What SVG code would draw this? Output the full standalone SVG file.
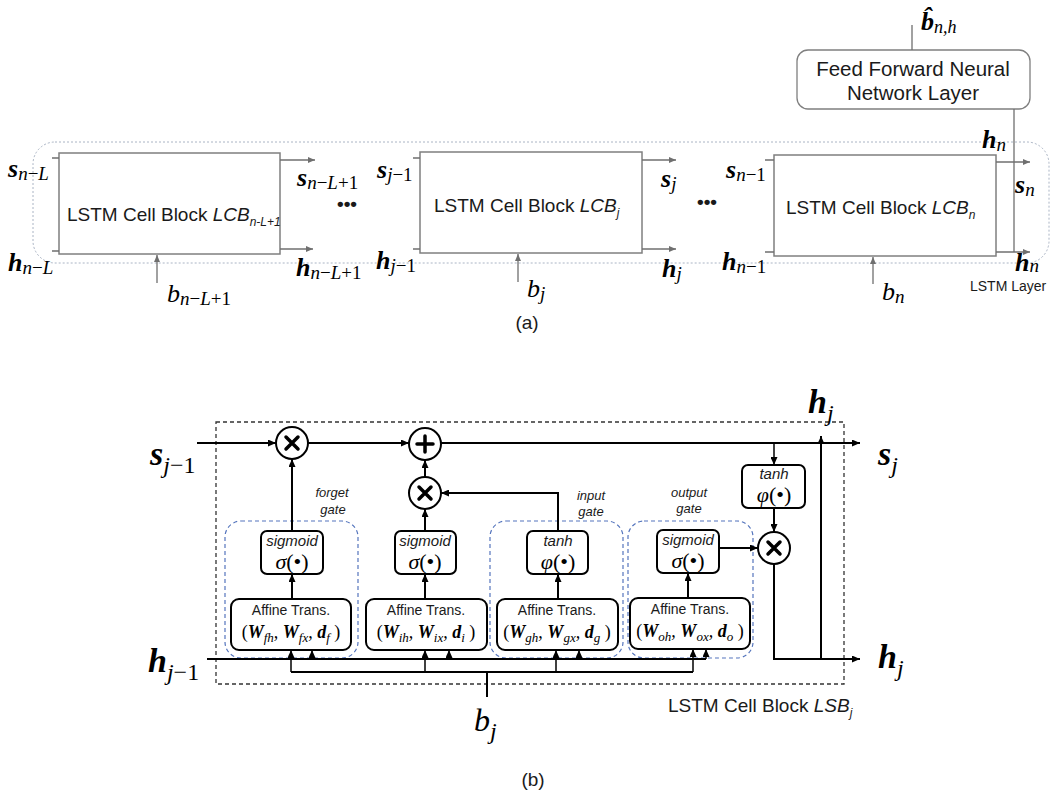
<svg xmlns="http://www.w3.org/2000/svg" width="1051" height="796" viewBox="0 0 1051 796">
<style>
.sans{font-family:"Liberation Sans",Arial,sans-serif;fill:#1a1a1a}
.m{font-family:"Liberation Serif","Times New Roman",serif;font-style:italic;font-weight:normal;fill:#000}
.mb{font-family:"Liberation Serif","Times New Roman",serif;font-style:italic;font-weight:bold;fill:#000}
.up{font-style:normal}
.blk{fill:#fff;stroke:#7f7f7f;stroke-width:1.5}
.gl{fill:none;stroke:#6f6f6f;stroke-width:1.3}
.dot{fill:none;stroke:#aab4c4;stroke-width:1;stroke-dasharray:2 2}
.ln{fill:none;stroke:#000;stroke-width:2}
.bx{fill:#fff;stroke:#000;stroke-width:2}
.gate{fill:none;stroke:#5575bd;stroke-width:1.2;stroke-dasharray:4 3}
.cell{fill:none;stroke:#333;stroke-width:1.3;stroke-dasharray:4 3}
.op{fill:#fff;stroke:#000;stroke-width:2}
.opx{stroke:#000;stroke-width:3.5;stroke-linecap:round}
</style>
<defs>
<marker id="aA" markerUnits="userSpaceOnUse" markerWidth="7" markerHeight="6" refX="7" refY="3" orient="auto"><path d="M0,0 L7,3 L0,6 z" fill="#6f6f6f"/></marker>
<marker id="aB" markerUnits="userSpaceOnUse" markerWidth="8" markerHeight="7" refX="8" refY="3.5" orient="auto"><path d="M0,0 L8,3.5 L0,7 z" fill="#000"/></marker>
</defs>

<!-- ===== (a) ===== -->
<g id="lstm-layer">
<rect class="dot" x="33" y="142" width="1016" height="121" rx="22"/>
<text class="sans" x="970" y="291" font-size="14">LSTM Layer</text>
</g>

<g id="ffn">
<rect class="blk" x="797" y="50" width="233" height="59" rx="11" style="stroke-width:1.3"/>
<text class="sans" x="913" y="76" font-size="20.5" text-anchor="middle">Feed Forward Neural</text>
<text class="sans" x="913" y="100" font-size="20.5" text-anchor="middle">Network Layer</text>
</g>

<g id="lcb1">
<rect class="blk" x="59" y="153" width="221" height="101"/>
<text class="sans" x="67" y="221" font-size="19">LSTM Cell Block <tspan font-style="italic">LCB</tspan><tspan font-style="italic" font-size="12" dy="5">n-L+1</tspan></text>
</g>
<g id="lcb2">
<rect class="blk" x="420" y="152" width="222" height="101"/>
<text class="sans" x="434" y="212" font-size="19">LSTM Cell Block <tspan font-style="italic">LCB</tspan><tspan font-style="italic" font-size="12" dy="5">j</tspan></text>
</g>
<g id="lcb3">
<rect class="blk" x="774" y="155" width="222" height="101"/>
<text class="sans" x="786" y="214" font-size="19">LSTM Cell Block <tspan font-style="italic">LCB</tspan><tspan font-style="italic" font-size="12" dy="5">n</tspan></text>
</g>

<g id="connectors-a">
<path class="gl" d="M52,158 H59 M52,251 H59"/>
<path class="gl" d="M280,160 H315" marker-end="url(#aA)"/>
<path class="gl" d="M280,249 H313" marker-end="url(#aA)"/>
<path class="gl" d="M157,283 V255" marker-end="url(#aA)"/>
<path class="gl" d="M413,158 H420 M413,249 H420"/>
<path class="gl" d="M642,160 H676" marker-end="url(#aA)"/>
<path class="gl" d="M642,249 H676" marker-end="url(#aA)"/>
<path class="gl" d="M518,282 V254" marker-end="url(#aA)"/>
<path class="gl" d="M765,160 H774 M765,252 H774"/>
<path class="gl" d="M996,162 H1030" marker-end="url(#aA)"/>
<path class="gl" d="M996,252 H1030" marker-end="url(#aA)"/>
<path class="gl" d="M873,284 V257" marker-end="url(#aA)"/>
<path class="gl" d="M1014,252 V109"/>
<path class="gl" d="M912,25 V50"/>
</g>

<g id="labels-a">
<text class="mb" x="921" y="30" font-size="26">b&#770;<tspan class="m" font-size="18" dy="3">n,h</tspan></text>
<text class="mb" x="8" y="177" font-size="26">s<tspan class="m" font-size="19" dy="3">n<tspan class="up">−</tspan>L</tspan></text>
<text class="mb" x="8" y="271" font-size="26">h<tspan class="m" font-size="19" dy="3">n<tspan class="up">−</tspan>L</tspan></text>
<text class="mb" x="297" y="186" font-size="26">s<tspan class="m" font-size="19" dy="3">n<tspan class="up">−</tspan>L<tspan class="up">+1</tspan></tspan></text>
<text class="mb" x="296" y="276" font-size="26">h<tspan class="m" font-size="19" dy="3">n<tspan class="up">−</tspan>L<tspan class="up">+1</tspan></tspan></text>
<text class="m" x="167" y="302" font-size="26">b<tspan font-size="19" dy="3">n<tspan class="up">−</tspan>L<tspan class="up">+1</tspan></tspan></text>
<text class="sans" x="337" y="210" font-size="19" font-weight="bold">•••</text>
<text class="mb" x="377" y="178" font-size="26">s<tspan class="m" font-size="19" dy="3">j<tspan class="up">−1</tspan></tspan></text>
<text class="mb" x="376" y="269" font-size="26">h<tspan class="m" font-size="19" dy="3">j<tspan class="up">−1</tspan></tspan></text>
<text class="mb" x="661" y="187" font-size="26">s<tspan class="m" font-size="19" dy="3">j</tspan></text>
<text class="mb" x="662" y="277" font-size="26">h<tspan class="m" font-size="19" dy="3">j</tspan></text>
<text class="m" x="527" y="297" font-size="26">b<tspan font-size="19" dy="3">j</tspan></text>
<text class="sans" x="697" y="208" font-size="19" font-weight="bold">•••</text>
<text class="mb" x="726" y="178" font-size="26">s<tspan class="m" font-size="19" dy="3">n<tspan class="up">−1</tspan></tspan></text>
<text class="mb" x="722" y="270" font-size="26">h<tspan class="m" font-size="19" dy="3">n<tspan class="up">−1</tspan></tspan></text>
<text class="mb" x="1015" y="193" font-size="26">s<tspan class="m" font-size="19" dy="3">n</tspan></text>
<text class="mb" x="982" y="148" font-size="26">h<tspan class="m" font-size="19" dy="3">n</tspan></text>
<text class="mb" x="1015" y="271" font-size="26">h<tspan class="m" font-size="19" dy="1">n</tspan></text>
<text class="m" x="882" y="300" font-size="26">b<tspan font-size="19" dy="3">n</tspan></text>
<text class="sans" x="527" y="329" font-size="19" text-anchor="middle">(a)</text>
</g>

<!-- ===== (b) ===== -->
<g id="lsb">
<rect class="cell" x="216" y="422" width="628" height="262"/>
<text class="sans" x="668" y="712" font-size="19">LSTM Cell Block <tspan font-style="italic">LSB</tspan><tspan font-style="italic" font-size="12" dy="5">j</tspan></text>
</g>

<g id="forget-gate">
<rect class="gate" x="225" y="521" width="133" height="137" rx="16"/>
<rect class="bx" x="261" y="531" width="62" height="43" rx="6"/>
<text class="sans" x="292" y="546" font-size="15" font-style="italic" text-anchor="middle">sigmoid</text>
<text class="m" x="292" y="569" font-size="22" text-anchor="middle">σ<tspan class="up">(•)</tspan></text>
<rect class="bx" x="231" y="599" width="120" height="51" rx="8"/>
<text class="sans" x="291" y="615" font-size="14" text-anchor="middle">Affine Trans.</text>
<text class="m" x="291" y="638" font-size="18" text-anchor="middle"><tspan class="up">(</tspan><tspan font-weight="bold">W</tspan><tspan font-size="13" dy="4">fh</tspan><tspan dy="-4">, </tspan><tspan font-weight="bold">W</tspan><tspan font-size="13" dy="4">fx</tspan><tspan dy="-4">, </tspan><tspan font-weight="bold">d</tspan><tspan font-size="13" dy="4">f</tspan><tspan class="up" dy="-4"> )</tspan></text>
<text class="sans" x="332" y="497" font-size="13" font-style="italic" text-anchor="middle">forget</text>
<text class="sans" x="333" y="514" font-size="13" font-style="italic" text-anchor="middle">gate</text>
</g>

<g id="input-sigmoid">
<rect class="bx" x="395" y="531" width="61" height="43" rx="6"/>
<text class="sans" x="425" y="546" font-size="15" font-style="italic" text-anchor="middle">sigmoid</text>
<text class="m" x="425" y="569" font-size="22" text-anchor="middle">σ<tspan class="up">(•)</tspan></text>
<rect class="bx" x="366" y="599" width="121" height="51" rx="8"/>
<text class="sans" x="426" y="615" font-size="14" text-anchor="middle">Affine Trans.</text>
<text class="m" x="426" y="638" font-size="18" text-anchor="middle"><tspan class="up">(</tspan><tspan font-weight="bold">W</tspan><tspan font-size="13" dy="4">ih</tspan><tspan dy="-4">, </tspan><tspan font-weight="bold">W</tspan><tspan font-size="13" dy="4">ix</tspan><tspan dy="-4">, </tspan><tspan font-weight="bold">d</tspan><tspan font-size="13" dy="4">i</tspan><tspan class="up" dy="-4"> )</tspan></text>
</g>

<g id="input-gate">
<rect class="gate" x="490" y="521" width="133" height="137" rx="16"/>
<rect class="bx" x="527" y="531" width="61" height="43" rx="6"/>
<text class="sans" x="558" y="546" font-size="15" font-style="italic" text-anchor="middle">tanh</text>
<text class="m" x="558" y="569" font-size="22" text-anchor="middle">φ<tspan class="up">(•)</tspan></text>
<rect class="bx" x="497" y="599" width="121" height="51" rx="8"/>
<text class="sans" x="557" y="615" font-size="14" text-anchor="middle">Affine Trans.</text>
<text class="m" x="557" y="638" font-size="18" text-anchor="middle"><tspan class="up">(</tspan><tspan font-weight="bold">W</tspan><tspan font-size="13" dy="4">gh</tspan><tspan dy="-4">, </tspan><tspan font-weight="bold">W</tspan><tspan font-size="13" dy="4">gx</tspan><tspan dy="-4">, </tspan><tspan font-weight="bold">d</tspan><tspan font-size="13" dy="4">g</tspan><tspan class="up" dy="-4"> )</tspan></text>
<text class="sans" x="591" y="500" font-size="13" font-style="italic" text-anchor="middle">input</text>
<text class="sans" x="591" y="516" font-size="13" font-style="italic" text-anchor="middle">gate</text>
</g>

<g id="output-gate">
<rect class="gate" x="628" y="521" width="125" height="137" rx="16"/>
<rect class="bx" x="657" y="530" width="62" height="43" rx="6"/>
<text class="sans" x="688" y="545" font-size="15" font-style="italic" text-anchor="middle">sigmoid</text>
<text class="m" x="688" y="568" font-size="22" text-anchor="middle">σ<tspan class="up">(•)</tspan></text>
<rect class="bx" x="630" y="598" width="120" height="51" rx="8"/>
<text class="sans" x="690" y="614" font-size="14" text-anchor="middle">Affine Trans.</text>
<text class="m" x="690" y="637" font-size="18" text-anchor="middle"><tspan class="up">(</tspan><tspan font-weight="bold">W</tspan><tspan font-size="13" dy="4">oh</tspan><tspan dy="-4">, </tspan><tspan font-weight="bold">W</tspan><tspan font-size="13" dy="4">ox</tspan><tspan dy="-4">, </tspan><tspan font-weight="bold">d</tspan><tspan font-size="13" dy="4">o</tspan><tspan class="up" dy="-4"> )</tspan></text>
<text class="sans" x="689" y="497" font-size="13" font-style="italic" text-anchor="middle">output</text>
<text class="sans" x="689" y="513" font-size="13" font-style="italic" text-anchor="middle">gate</text>
</g>

<g id="cell-tanh">
<rect class="bx" x="742" y="465" width="63" height="43" rx="6"/>
<text class="sans" x="774" y="479" font-size="15" font-style="italic" text-anchor="middle">tanh</text>
<text class="m" x="774" y="502" font-size="22" text-anchor="middle">φ<tspan class="up">(•)</tspan></text>
</g>

<g id="op-forget-mul">
<circle class="op" cx="292" cy="443" r="16"/>
<path class="opx" d="M286,437 L298,449 M298,437 L286,449"/>
</g>
<g id="op-add">
<circle class="op" cx="425" cy="444" r="16"/>
<path class="opx" d="M425,436 V452 M417,444 H433"/>
</g>
<g id="op-input-mul">
<circle class="op" cx="425" cy="493" r="16"/>
<path class="opx" d="M419,487 L431,499 M431,487 L419,499"/>
</g>
<g id="op-output-mul">
<circle class="op" cx="774" cy="548" r="16"/>
<path class="opx" d="M768,542 L780,554 M780,542 L768,554"/>
</g>

<g id="connectors-b">
<path class="ln" d="M197,443 H276" marker-end="url(#aB)"/>
<path class="ln" d="M308,443 H409" marker-end="url(#aB)"/>
<path class="ln" d="M441,443 H860" marker-end="url(#aB)"/>
<path class="ln" d="M292,531 V459" marker-end="url(#aB)"/>
<path class="ln" d="M292,599 V574" marker-end="url(#aB)"/>
<path class="ln" d="M425,531 V509" marker-end="url(#aB)"/>
<path class="ln" d="M425,477 V460" marker-end="url(#aB)"/>
<path class="ln" d="M425,599 V574" marker-end="url(#aB)"/>
<path class="ln" d="M558,531 V493 H441" marker-end="url(#aB)"/>
<path class="ln" d="M558,599 V574" marker-end="url(#aB)"/>
<path class="ln" d="M774,443 V465" marker-end="url(#aB)" style="stroke-width:1.5"/>
<path class="ln" d="M774,508 V532" marker-end="url(#aB)"/>
<path class="ln" d="M719,548 H758" marker-end="url(#aB)"/>
<path class="ln" d="M688,598 V573" marker-end="url(#aB)"/>
<path class="ln" d="M774,564 V659 H860" marker-end="url(#aB)"/>
<path class="ln" d="M821,659 V436" marker-end="url(#aB)"/>
<path class="ln" d="M207,659 H706"/>
<path class="ln" d="M291,672 H693"/>
<path class="ln" d="M487,697 V672"/>
<path class="ln" d="M291,672 V650" marker-end="url(#aB)" style="stroke-width:1.5"/>
<path class="ln" d="M425,672 V650" marker-end="url(#aB)" style="stroke-width:1.5"/>
<path class="ln" d="M556,672 V650" marker-end="url(#aB)" style="stroke-width:1.5"/>
<path class="ln" d="M693,672 V649" marker-end="url(#aB)" style="stroke-width:1.5"/>
<path class="ln" d="M312,659 V650" marker-end="url(#aB)" style="stroke-width:1.5"/>
<path class="ln" d="M449,659 V650" marker-end="url(#aB)" style="stroke-width:1.5"/>
<path class="ln" d="M579,659 V650" marker-end="url(#aB)" style="stroke-width:1.5"/>
<path class="ln" d="M706,659 V649" marker-end="url(#aB)" style="stroke-width:1.5"/>
</g>

<g id="labels-b">
<text class="mb" x="150" y="465" font-size="34">s<tspan class="m" font-size="24" dy="8">j<tspan class="up">−1</tspan></tspan></text>
<text class="mb" x="148" y="672" font-size="34">h<tspan class="m" font-size="24" dy="8">j<tspan class="up">−1</tspan></tspan></text>
<text class="mb" x="878" y="465" font-size="34">s<tspan class="m" font-size="24" dy="8">j</tspan></text>
<text class="mb" x="878" y="668" font-size="34">h<tspan class="m" font-size="24" dy="8">j</tspan></text>
<text class="mb" x="808" y="413" font-size="34">h<tspan class="m" font-size="24" dy="8">j</tspan></text>
<text class="m" x="474" y="731" font-size="32">b<tspan font-size="24" dy="8">j</tspan></text>
<text class="sans" x="533" y="786" font-size="19" text-anchor="middle">(b)</text>
</g>
</svg>
